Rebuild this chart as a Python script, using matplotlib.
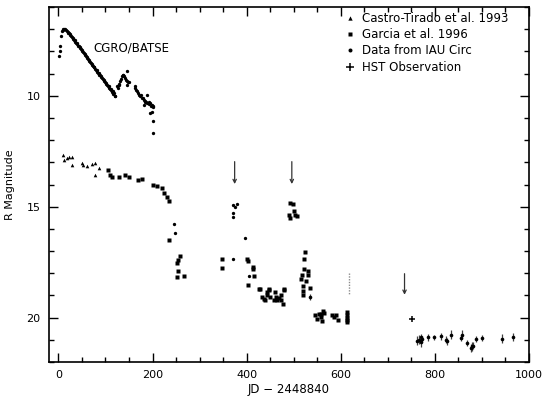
import matplotlib
matplotlib.use('Agg')
import matplotlib.pyplot as plt
from matplotlib.ticker import MultipleLocator

plt.rcParams['font.family'] = ['DejaVu Sans']

# ---------------- data ----------------
cgro_day = [1.5, 3.6, 3.6, 5, 7, 9, 10.7, 12, 14, 16, 17.8, 19.5, 21, 22.5, 24, 25.5, 27, 28.5,
            30, 31.5, 33, 34.5, 36, 37.5, 39, 40.5, 42, 43.5, 45, 46.5, 48, 49.5, 51, 52.5, 54,
            55.5, 57, 58.5, 60, 61.5, 63, 64.5, 66, 67.5, 69, 70.5, 72, 73.5, 75, 76.5, 78, 79.5,
            81, 82.5, 84, 85.5, 87, 88.5, 90, 91.5, 93, 94.5, 96, 97.5, 99, 100.5, 102, 103.5,
            105, 106.5, 108, 109.5, 111, 112.5, 114, 115.5, 117, 118.5, 120, 121,
            124, 126, 127.7, 129, 131, 133, 135, 136.5, 138, 140, 142, 144, 145.5, 145.5, 145.5,
            147, 149,
            161.7, 163, 165, 167, 169, 171, 174, 175, 177, 179, 181, 181, 183, 184.5, 186, 188,
            189, 191.5, 193, 195, 195, 197, 198.7, 198.7, 200, 202, 201, 202]
cgro_mag = [8.22, 8.0, 7.77, 7.3, 7.09, 7.02, 6.98, 6.98, 7.01, 7.04, 7.09, 7.12, 7.15, 7.19,
            7.22, 7.27, 7.30, 7.33, 7.39, 7.42, 7.47, 7.50, 7.57, 7.60, 7.63, 7.69, 7.74, 7.77,
            7.81, 7.87, 7.91, 7.94, 7.99, 8.05, 8.08, 8.12, 8.18, 8.20, 8.26, 8.29, 8.35, 8.38,
            8.42, 8.48, 8.53, 8.55, 8.61, 8.64, 8.70, 8.72, 8.79, 8.82, 8.85, 8.91, 8.96, 8.98,
            9.05, 9.07, 9.10, 9.17, 9.22, 9.24, 9.31, 9.33, 9.36, 9.44, 9.48, 9.50, 9.58, 9.55,
            9.66, 9.68, 9.74, 9.70, 9.84, 9.80, 9.92, 9.88, 10.0, 10.03,
            9.58, 9.65, 9.5, 9.45, 9.35, 9.25, 9.13, 9.08, 9.05, 9.12, 9.2, 9.28, 9.35, 8.9, 9.5,
            9.38, 9.4,
            9.58, 9.65, 9.73, 9.80, 9.88, 9.95, 10.03, 9.98, 10.1, 10.12, 10.18, 10.4, 10.22,
            10.26, 10.3, 9.95, 10.32, 10.26, 10.38, 10.33, 10.78, 10.45, 10.4, 10.71, 10.5,
            10.48, 11.16, 11.66]

castro_day = [10.6, 12.1, 17.9, 23.4, 28.5, 29.8, 49.8, 53.2, 60.4, 71, 78, 78, 87]
castro_mag = [12.67, 12.9, 12.82, 12.78, 12.74, 13.12, 13.04, 13.12, 13.17, 13.08, 13.02, 13.57, 13.27]

garcia_day = [106, 110, 113.6, 127.7, 142, 151, 170, 177, 202, 209, 220, 225, 230.6, 236,
              234, 259, 255, 253, 255, 253, 266,
              347.6, 347.6, 401, 402, 413, 413, 415, 402, 425.5, 429, 447, 479,
              433, 436, 440, 443, 443, 447, 449, 461, 463, 459, 465, 468, 472, 473, 476.6, 479,
              493, 498, 500, 489, 491.5, 502, 507,
              523, 521, 521, 518, 516, 530.6, 530, 527, 519, 519, 519, 534,
              546, 550, 553, 558, 562.5, 565, 560, 557, 582, 585, 589, 593.6,
              613.6, 613.6, 613.6, 613.6, 613.6]
garcia_mag = [13.35, 13.57, 13.65, 13.65, 13.57, 13.65, 13.8, 13.77, 14.0, 14.07, 14.17, 14.4,
              14.56, 14.75,
              16.52, 17.24, 17.4, 17.55, 17.9, 18.19, 18.14,
              17.37, 17.77, 17.35, 17.45, 17.7, 17.8, 18.14, 18.55, 18.7, 18.7, 18.72, 18.72,
              19.08, 19.15, 19.2, 18.85, 18.97, 18.75, 19.08, 18.85, 19.08, 19.2, 19.2, 19.1,
              19.0, 19.2, 19.38, 18.75,
              14.83, 14.89, 15.19, 15.38, 15.49, 15.37, 15.43,
              17.04, 17.37, 17.82, 18.1, 18.28, 17.9, 18.1, 18.36, 18.58, 18.8, 18.96, 18.65,
              19.9, 20.06, 19.83, 19.83, 19.71, 19.8, 20.17, 19.99, 19.9, 19.99, 19.86, 20.1,
              19.75, 19.9, 20.0, 20.1, 20.2]

iau_day = [245, 248, 370, 374.5, 379.6, 370, 370, 371, 396, 405.7]
iau_mag = [15.8, 16.19, 14.93, 15.0, 14.89, 15.28, 15.46, 17.37, 16.39, 18.14]

late_day = [535.5, 762.5, 766, 769.6, 771, 773, 785, 798, 812, 823, 826, 835, 855, 857, 869,
            876, 878, 881, 887, 901, 943, 967]
late_mag = [19.07, 21.04, 21.0, 20.89, 21.12, 20.96, 20.89, 20.89, 20.85, 21.0, 21.07, 20.78,
            20.92, 20.78, 21.14, 21.37, 21.3, 21.27, 20.96, 20.92, 20.96, 20.89]
late_err = [0.15, 0.2, 0.2, 0.15, 0.2, 0.15, 0.15, 0.12, 0.15, 0.15, 0.15, 0.2, 0.15, 0.2,
            0.15, 0.2, 0.2, 0.15, 0.15, 0.15, 0.2, 0.18]

hst_day = [751]
hst_mag = [20.06]

arrow_day = [374.5, 496, 735.5]
arrow_top = [12.97, 12.97, 18.02]
arrow_tip = [13.98, 13.98, 18.97]

dotted_day = [617, 617]
dotted_mag = [18.0, 18.93]

# ---------------- figure ----------------
fig = plt.figure(figsize=(5.43, 3.96), dpi=100)
ax = fig.add_axes([49/543, 34/396, 480/543, 355/396])

ax.plot(cgro_day, cgro_mag, 'o', ms=2.4, color='black', mec='none')
ax.plot(castro_day, castro_mag, '^', ms=2.6, color='black', mec='none',
        label='Castro-Tirado et al. 1993')
ax.plot(garcia_day, garcia_mag, 's', ms=2.8, color='black', mec='none',
        label='Garcia et al. 1996')
ax.plot(iau_day, iau_mag, 'o', ms=2.4, color='black', mec='none',
        label='Data from IAU Circ')
ax.errorbar(late_day, late_mag, yerr=late_err, fmt='o', ms=2.6, color='black', mec='none',
            ecolor='0.25', elinewidth=0.9, capsize=0)
ax.plot(hst_day, hst_mag, '+', ms=5, mew=1.1, color='black', label='HST Observation')

for d, t, p in zip(arrow_day, arrow_top, arrow_tip):
    ax.annotate('', xy=(d, p), xytext=(d, t),
                arrowprops=dict(arrowstyle='->', lw=0.9, color='0.2',
                                mutation_scale=6, shrinkA=0, shrinkB=0))
ax.plot(dotted_day, dotted_mag, ls=(0, (1, 1)), color='0.55', lw=1.0)

ax.text(74.5, 7.84, 'CGRO/BATSE', fontsize=8.5, va='center', ha='left')

ax.set_xlim(-20, 1000)
ax.set_ylim(22, 6)
ax.xaxis.set_major_locator(MultipleLocator(200))
ax.xaxis.set_minor_locator(MultipleLocator(50))
ax.yaxis.set_major_locator(MultipleLocator(5))
ax.yaxis.set_minor_locator(MultipleLocator(1))
ax.tick_params(which='both', direction='in', top=True, right=True, labelsize=8, width=1.0)
ax.tick_params(which='major', length=6.5, pad=6)
ax.tick_params(which='minor', length=3.6)
for s in ax.spines.values():
    s.set_linewidth(1.2)

ax.set_xlabel('JD \u2212 2448840', fontsize=8.5, labelpad=2)
ax.set_ylabel('R Magnitude', fontsize=8, labelpad=8)

ax.legend(loc='upper right', bbox_to_anchor=(0.967, 1.0), frameon=False, fontsize=8.5,
          handlelength=0.8, handletextpad=0.6, labelspacing=0.28, borderaxespad=0.0,
          markerscale=1.2)

fig.savefig('out.png', dpi=100)
